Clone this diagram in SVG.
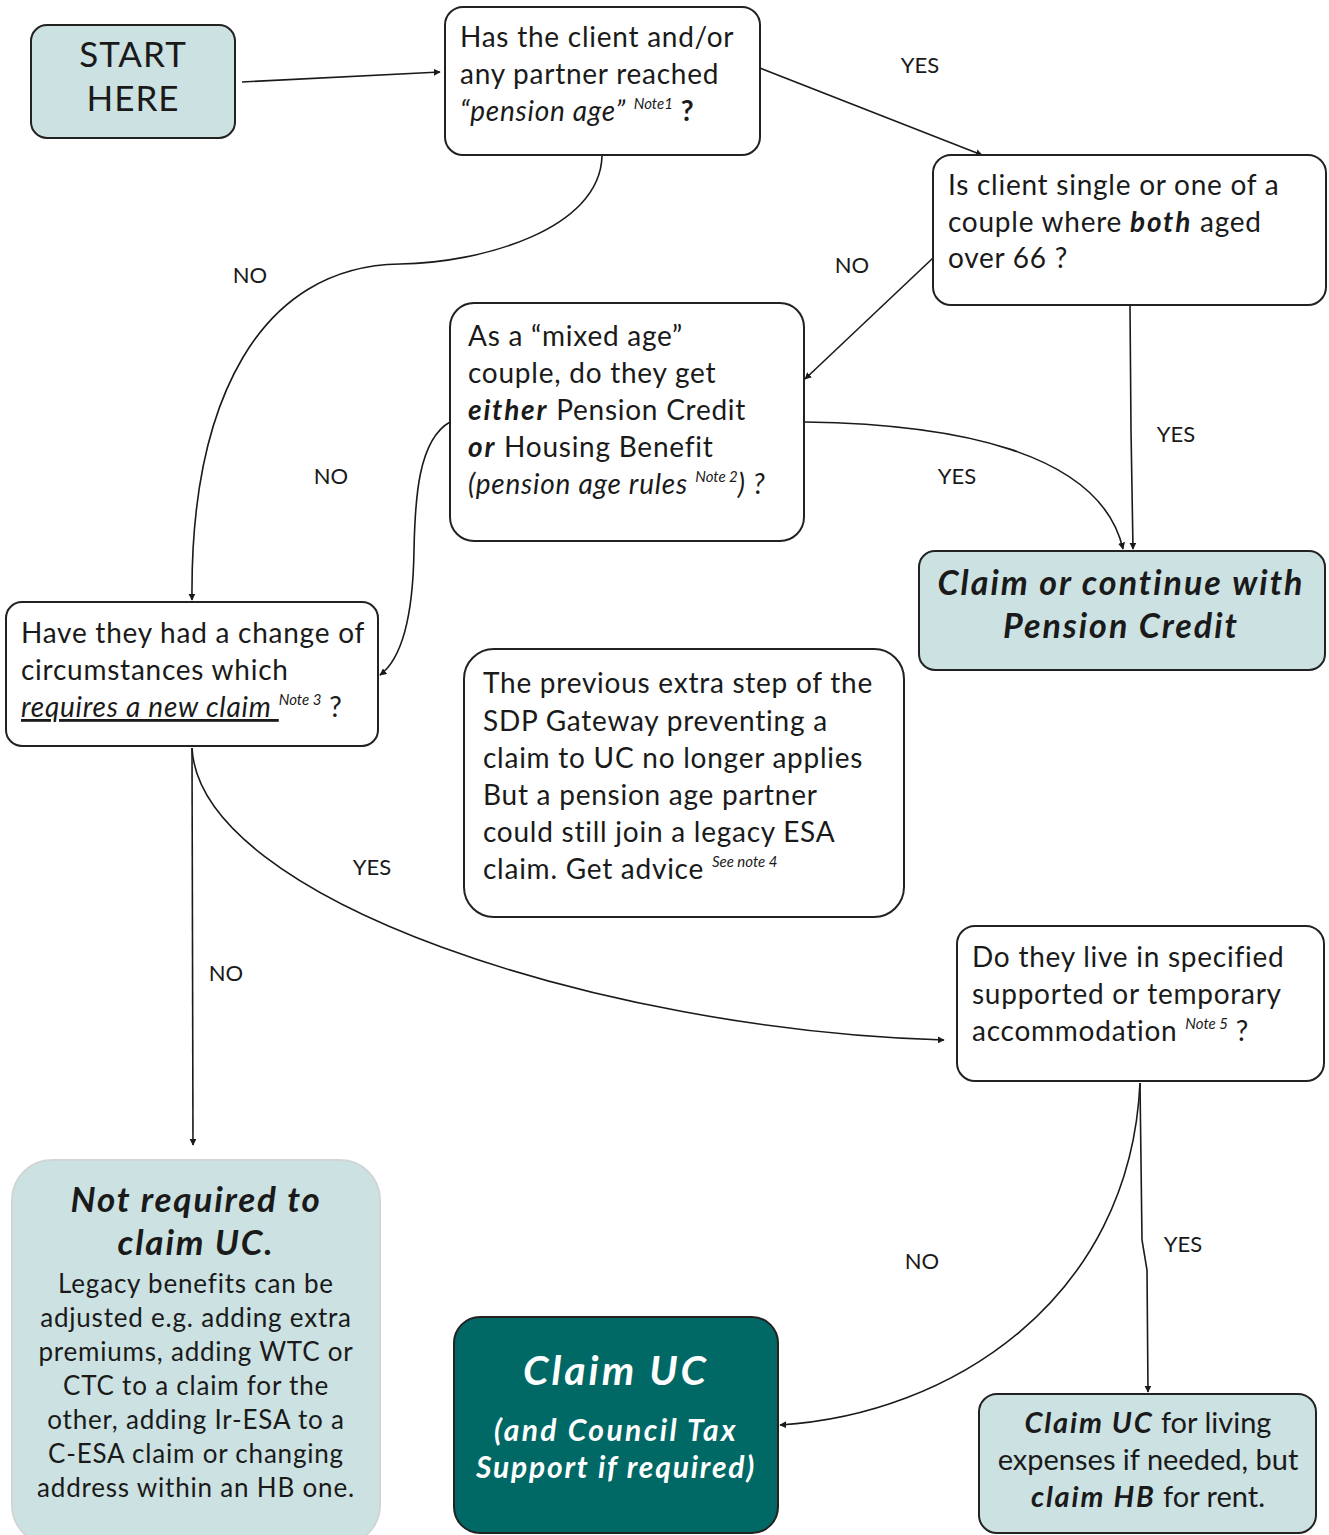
<svg xmlns="http://www.w3.org/2000/svg" width="1329" height="1535" viewBox="0 0 1329 1535">
<defs>
<marker id="ah" viewBox="0 0 10 10" refX="9" refY="5" markerWidth="7" markerHeight="7" markerUnits="userSpaceOnUse" orient="auto">
<path d="M0,0 L10,5 L0,10 z" fill="#1a1a1a"/>
</marker>
<style>
.box{fill:#fff;stroke:#222;stroke-width:2}
.lt{fill:#cce1e1;stroke:#222;stroke-width:2}
.lt2{fill:#cce1e1;stroke:#d0d6d6;stroke-width:2}
.dk{fill:#006865;stroke:#222;stroke-width:2}
.t{font-family:Lato,"Open Sans",sans-serif;fill:#1a1a1a}
.q{font-size:28px;letter-spacing:0.75px}
.bi{font-weight:bold;font-style:italic;letter-spacing:1.8px}
.lab{font-family:Lato,"Open Sans",sans-serif;font-size:22px;fill:#1a1a1a}
.sup{font-size:15px;font-style:italic;letter-spacing:0}
.c{fill:none;stroke:#1a1a1a;stroke-width:1.6;marker-end:url(#ah)}
.w{font-family:Lato,"Open Sans",sans-serif;font-weight:bold;font-style:italic;fill:#fff}
</style>
</defs>
<rect width="1329" height="1535" fill="#fff"/>
<g id="connectors">
<path class="c" d="M242,82 L440,72"/>
<path class="c" d="M760,68 L982,155"/>
<path class="c" d="M933,258 L805,379"/>
<path class="c" d="M1130,306 L1131,430 L1133,549"/>
<path class="c" d="M805,422 C950,424 1100,450 1123,549"/>
<path class="c" d="M602,156 C600,230 480,263 400,264 C260,266 190,400 192,600"/>
<path class="c" d="M450,422 C418,440 415,500 414,550 C413,620 400,660 380,675"/>
<path class="c" d="M192,748 C200,900 600,1030 944,1040"/>
<path class="c" d="M192,748 L193,1145"/>
<path class="c" d="M1140,1083 C1130,1300 950,1415 780,1425"/>
<path class="c" d="M1140,1083 L1142,1240 L1147,1270 L1148,1392"/>
<text class="lab" x="920" y="73" text-anchor="middle">YES</text>
<text class="lab" x="852" y="273" text-anchor="middle">NO</text>
<text class="lab" x="1176" y="442" text-anchor="middle">YES</text>
<text class="lab" x="957" y="484" text-anchor="middle">YES</text>
<text class="lab" x="250" y="283" text-anchor="middle">NO</text>
<text class="lab" x="331" y="484" text-anchor="middle">NO</text>
<text class="lab" x="372" y="875" text-anchor="middle">YES</text>
<text class="lab" x="226" y="981" text-anchor="middle">NO</text>
<text class="lab" x="922" y="1269" text-anchor="middle">NO</text>
<text class="lab" x="1183" y="1252" text-anchor="middle">YES</text>
</g>
<g id="start">
<rect class="lt" x="31" y="25" width="204" height="113" rx="16"/>
<text class="t" x="133" y="67" font-size="35" letter-spacing="1" text-anchor="middle">START</text>
<text class="t" x="133" y="111" font-size="35" letter-spacing="1" text-anchor="middle">HERE</text>
</g>
<g id="q1">
<rect class="box" x="445" y="7" width="315" height="148" rx="18"/>
<text class="t q" x="460" y="47">Has the client and/or</text>
<text class="t q" x="460" y="84">any partner reached</text>
<text class="t q" x="460" y="121"><tspan font-style="italic">“pension age”</tspan> <tspan class="sup" dy="-12">Note1</tspan> <tspan dy="12" font-weight="bold">?</tspan></text>
</g>
<g id="q2">
<rect class="box" x="933" y="155" width="393" height="150" rx="18"/>
<text class="t q" x="948" y="195">Is client single or one of a</text>
<text class="t q" x="948" y="232">couple where <tspan class="bi">both</tspan> aged</text>
<text class="t q" x="948" y="268">over 66 ?</text>
</g>
<g id="q3">
<rect class="box" x="450" y="303" width="354" height="238" rx="24"/>
<text class="t q" x="468" y="346">As a “mixed age”</text>
<text class="t q" x="468" y="383">couple, do they get</text>
<text class="t q" x="468" y="420"><tspan class="bi">either</tspan> Pension Credit</text>
<text class="t q" x="468" y="457"><tspan class="bi">or</tspan> Housing Benefit</text>
<text class="t q" x="468" y="494" font-style="italic">(pension age rules <tspan class="sup" dy="-12">Note 2</tspan><tspan dy="12">) ?</tspan></text>
</g>
<g id="pc">
<rect class="lt" x="919" y="551" width="406" height="119" rx="16"/>
<text class="t" x="1121" y="595" font-size="34" font-weight="bold" font-style="italic" letter-spacing="2" text-anchor="middle">Claim or continue with</text>
<text class="t" x="1121" y="638" font-size="34" font-weight="bold" font-style="italic" letter-spacing="2" text-anchor="middle">Pension Credit</text>
</g>
<g id="q4">
<rect class="box" x="6" y="602" width="372" height="144" rx="16"/>
<text class="t q" x="21" y="643">Have they had a change of</text>
<text class="t q" x="21" y="680">circumstances which</text>
<text class="t q" x="21" y="717"><tspan font-style="italic" text-decoration="underline">requires a new claim </tspan><tspan class="sup" dy="-12">Note 3</tspan><tspan dy="12"> ?</tspan></text>
</g>
<g id="info">
<rect class="box" x="464" y="649" width="440" height="268" rx="30"/>
<text class="t q" x="483" y="693" letter-spacing="0.9">The previous extra step of the</text>
<text class="t q" x="483" y="731" letter-spacing="0.9">SDP Gateway preventing a</text>
<text class="t q" x="483" y="768" letter-spacing="0.9">claim to UC no longer applies</text>
<text class="t q" x="483" y="805" letter-spacing="0.9">But a pension age partner</text>
<text class="t q" x="483" y="842" letter-spacing="0.9">could still join a legacy ESA</text>
<text class="t q" x="483" y="879" letter-spacing="0.9">claim. Get advice <tspan class="sup" dy="-12">See note 4</tspan></text>
</g>
<g id="q5">
<rect class="box" x="957" y="926" width="367" height="155" rx="18"/>
<text class="t q" x="972" y="967">Do they live in specified</text>
<text class="t q" x="972" y="1004">supported or temporary</text>
<text class="t q" x="972" y="1041">accommodation <tspan class="sup" dy="-12">Note 5</tspan><tspan dy="12">  ?</tspan></text>
</g>
<g id="notreq">
<rect class="lt2" x="12" y="1160" width="368" height="385" rx="40"/>
<text class="t" x="196" y="1212" font-size="35" font-weight="bold" font-style="italic" letter-spacing="1.8" text-anchor="middle">Not required to</text>
<text class="t" x="196" y="1255" font-size="35" font-weight="bold" font-style="italic" letter-spacing="1.8" text-anchor="middle">claim UC.</text>
<g class="t" font-size="26" letter-spacing="0.8" text-anchor="middle">
<text x="196" y="1293">Legacy benefits can be</text>
<text x="196" y="1327">adjusted e.g. adding extra</text>
<text x="196" y="1361">premiums, adding WTC or</text>
<text x="196" y="1395">CTC to a claim for the</text>
<text x="196" y="1429">other, adding Ir-ESA to a</text>
<text x="196" y="1463">C-ESA claim or changing</text>
<text x="196" y="1497">address within an HB one.</text>
</g>
</g>
<g id="claimuc">
<rect class="dk" x="454" y="1317" width="324" height="216" rx="26"/>
<text class="w" x="616" y="1385" font-size="41" letter-spacing="3" text-anchor="middle">Claim UC</text>
<text class="w" x="616" y="1441" font-size="30" letter-spacing="2.4" text-anchor="middle">(and Council Tax</text>
<text class="w" x="616" y="1478" font-size="30" letter-spacing="1.8" text-anchor="middle">Support if required)</text>
</g>
<g id="hb">
<rect class="lt" x="979" y="1394" width="337" height="139" rx="18"/>
<text class="t" x="1148" y="1433" font-size="29" text-anchor="middle"><tspan class="bi">Claim UC</tspan> for living</text>
<text class="t" x="1148" y="1470" font-size="29" text-anchor="middle">expenses if needed, but</text>
<text class="t" x="1148" y="1507" font-size="29" text-anchor="middle"><tspan class="bi">claim HB</tspan> for rent.</text>
</g>
</svg>
